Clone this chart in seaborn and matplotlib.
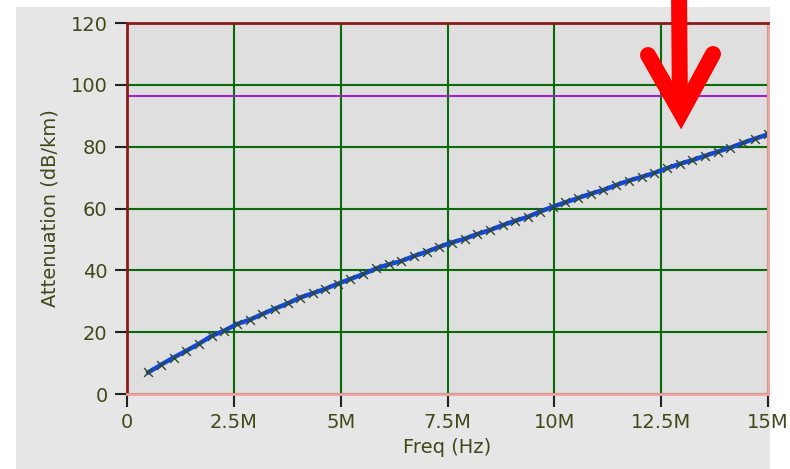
import matplotlib
matplotlib.use("Agg")
import matplotlib.pyplot as plt
from matplotlib.lines import Line2D
from matplotlib.patches import Rectangle
import seaborn as sns
import pandas as pd

# ---- data ----
freq_mhz = [0.50, 0.80, 1.09, 1.39, 1.68, 1.98, 2.28, 2.57, 2.87, 3.16,
            3.46, 3.76, 4.05, 4.35, 4.64, 4.94, 5.23, 5.53, 5.83, 6.12,
            6.42, 6.71, 7.01, 7.31, 7.60, 7.90, 8.19, 8.49, 8.79, 9.08,
            9.38, 9.67, 9.97, 10.26, 10.56, 10.86, 11.15, 11.45, 11.74, 12.04,
            12.34, 12.63, 12.93, 13.22, 13.52, 13.82, 14.11, 14.41, 14.70, 15.00]
attenuation = [7.0, 9.5, 11.8, 14.0, 16.2, 18.8, 20.5, 22.6, 24.0, 25.8,
               27.6, 29.3, 31.2, 32.6, 34.0, 35.7, 37.2, 38.8, 40.6, 41.9,
               43.0, 44.6, 46.0, 47.6, 49.0, 50.2, 51.7, 53.0, 54.6, 56.0,
               57.3, 59.0, 60.6, 62.0, 63.4, 64.8, 66.0, 67.6, 69.0, 70.2,
               71.5, 73.0, 74.4, 75.6, 77.0, 78.4, 79.6, 81.2, 82.6, 84.0]
limit_level = 96.5
x_ticks_mhz = [0, 2.5, 5, 7.5, 10, 12.5, 15]
x_tick_labels = ["0", "2.5M", "5M", "7.5M", "10M", "12.5M", "15M"]
y_ticks = [0, 20, 40, 60, 80, 100, 120]
x_label = "Freq (Hz)"
y_label = "Attenuation (dB/km)"

df = pd.DataFrame({"freq": [f * 1e6 for f in freq_mhz], "att": attenuation})

W, H = 790, 469
fig = plt.figure(figsize=(W / 100, H / 100), dpi=100)
fig.patch.set_facecolor("white")

def fx(px):
    return px / W

def fy(py):
    return 1 - py / H

# gray panel
fig.add_artist(Rectangle((fx(16), 0), fx(770) - fx(16), fy(7), transform=fig.transFigure,
                         facecolor="#e6e6e6", edgecolor="none", zorder=0))

L, R, T, B = 127, 768, 23, 394
ax = fig.add_axes([fx(L), fy(B), fx(R) - fx(L), fy(T) - fy(B)])
ax.set_facecolor("#dfdfdf")
ax.set_zorder(1)

text_color = "#3f4a1a"
grid_color = "#0b6b0b"

sns.lineplot(data=df, x="freq", y="att", ax=ax, color="#1448d8", linewidth=3.2, zorder=3)
sns.scatterplot(data=df, x="freq", y="att", ax=ax, marker="x", color="#2f4a2a",
                s=40, linewidth=1.0, zorder=4)
ax.axhline(limit_level, color="#a020d0", linewidth=1.5, zorder=2)

ax.set_xlim(0, 15e6)
ax.set_ylim(0, 120)
ax.set_xticks([t * 1e6 for t in x_ticks_mhz])
ax.set_xticklabels(x_tick_labels)
ax.set_yticks(y_ticks)
ax.grid(True, color=grid_color, linewidth=1.5)
ax.set_axisbelow(True)

ax.tick_params(axis="both", direction="out", length=9, width=1.5, color="#222222",
               labelsize=14, labelcolor=text_color, pad=5)
ax.set_xlabel(x_label, fontsize=14, color=text_color, labelpad=4)
ax.set_ylabel(y_label, fontsize=14, color=text_color, labelpad=8)

for side, col in (("left", "#8b1a1a"), ("top", "#8b1a1a"),
                  ("bottom", "#f2a0a0"), ("right", "#f2a0a0")):
    ax.spines[side].set_color(col)
    ax.spines[side].set_linewidth(2)
    ax.spines[side].set_zorder(5)

# red arrow annotation
red = "#ff0000"
lw = 11.5
fig.add_artist(Line2D([fx(679), fx(680)], [fy(-10), fy(112)], transform=fig.transFigure,
                      color=red, linewidth=lw, solid_capstyle="butt", zorder=10))
fig.add_artist(Line2D([fx(648), fx(681), fx(713)], [fy(55), fy(113), fy(54)],
                      transform=fig.transFigure, color=red, linewidth=lw,
                      solid_capstyle="round", solid_joinstyle="miter", zorder=10))

fig.savefig("out.png", dpi=100)
